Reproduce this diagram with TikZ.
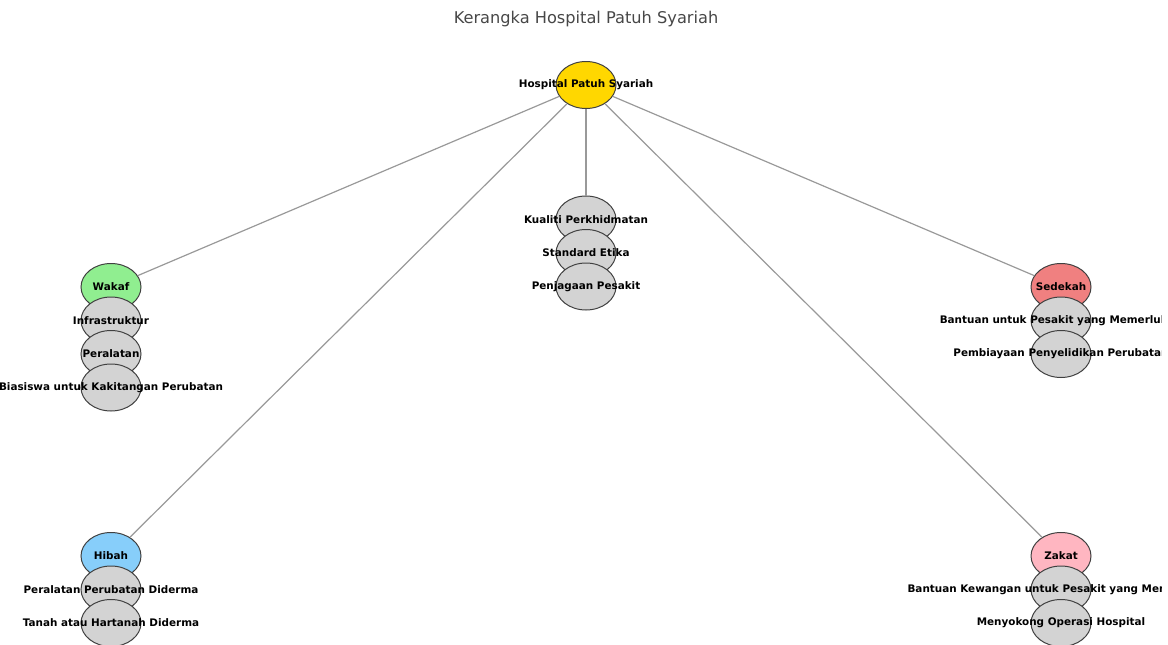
\documentclass[tikz,border=0pt]{standalone}
\usepackage{fontspec}
\setmainfont{DejaVu Sans}
\usepackage{xcolor}
\usepackage{tikz}
\usetikzlibrary{shapes}
\usetikzlibrary{shapes.geometric}
\definecolor{rootgold}{HTML}{FFD700}
\definecolor{wakafgreen}{HTML}{90EE90}
\definecolor{sedekahred}{HTML}{F08080}
\definecolor{hibahblue}{HTML}{87CEFA}
\definecolor{zakatpink}{HTML}{FFB6C1}
\definecolor{leafgray}{HTML}{D3D3D3}
\definecolor{rimgray}{HTML}{404040}
\definecolor{linkgray}{HTML}{999999}
\tikzset{
    Node/.style = {ellipse, draw=rimgray, line width=1pt, inner sep=0pt, minimum width=60pt, minimum height=47pt},
    rootnode/.style = {Node, fill=rootgold},
    leafnode/.style = {Node, fill=leafgray},
    every label/.style = {font=\fontsize{10.4}{12}\bfseries\selectfont, inner sep=0pt, text=black},
}

\begin{document}
\begin{tikzpicture}[
	x=1pt,
	y=-1pt
]
\tikzset{
    edgen/.style = {-, linkgray, line width=1.2pt},
}
\useasboundingbox (0,0) rectangle (1168,645);
\clip (0,0) rectangle (1161,645);
\node[font=\fontsize{16.2}{19}\selectfont, text=black!72] (title) at (586,19) {Kerangka Hospital Patuh Syariah};
\node[rootnode, label=center:Hospital Patuh Syariah] at (586,85) (root) {};
%
\node[leafnode, label=center:Kualiti Perkhidmatan] at (586,219.5) (kualiti) {};
\node[leafnode, label=center:Standard Etika] at (586,253) (etika) {};
\node[leafnode, label=center:Penjagaan Pesakit] at (586,286.5) (jaga) {};
%
\node[Node, fill=wakafgreen, label=center:Wakaf] at (111,287) (wakaf) {};
\node[leafnode, label=center:Infrastruktur] at (111,320.5) (infra) {};
\node[leafnode, label=center:Peralatan] at (111,354) (alat) {};
\node[leafnode, label=center:Biasiswa untuk Kakitangan Perubatan] at (111,387.5) (biasiswa) {};
%
\node[Node, fill=sedekahred, label=center:Sedekah] at (1061,287) (sedekah) {};
\node[leafnode, label=center:Bantuan untuk Pesakit yang Memerlukan] at (1061,320.5) (bantuan) {};
\node[leafnode, label=center:Pembiayaan Penyelidikan Perubatan] at (1061,354) (biaya) {};
%
\node[Node, fill=hibahblue, label=center:Hibah] at (111,556) (hibah) {};
\node[leafnode, label=center:Peralatan Perubatan Diderma] at (111,589.5) (derma) {};
\node[leafnode, label=center:Tanah atau Hartanah Diderma] at (111,623) (tanah) {};
%
\node[Node, fill=zakatpink, label=center:Zakat] at (1061,556) (zakat) {};
\node[leafnode, label=center:Bantuan Kewangan untuk Pesakit yang Memerlukan] at (1061,589.5) (kewangan) {};
\node[leafnode, label=center:Menyokong Operasi Hospital] at (1061,623) (operasi) {};
%
\draw[edgen] (root) edge (wakaf);
\draw[edgen] (root) edge (hibah);
\draw[edgen] (root) edge (kualiti);
\draw[edgen] (root) edge (sedekah);
\draw[edgen] (root) edge (zakat);
\end{tikzpicture}
\end{document}
